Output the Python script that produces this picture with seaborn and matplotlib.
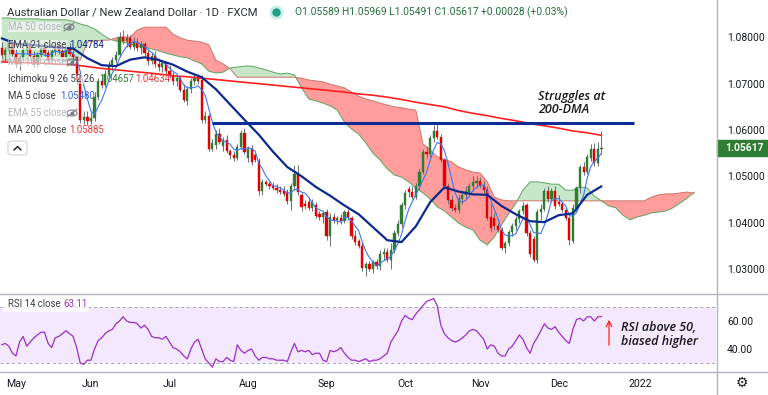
import numpy as np
import pandas as pd
import matplotlib
matplotlib.use("Agg")
import matplotlib.pyplot as plt
import seaborn as sns
from matplotlib.patches import Rectangle, Ellipse, FancyBboxPatch
from matplotlib.lines import Line2D
from matplotlib.ticker import FormatStrFormatter

# ------------------- DATA: AUD/NZD 1D (FXCM), 27 Apr - 17 Dec 2021 -------------------
start_date = "2021-04-27"

open_prices = [
    1.0778, 1.0762, 1.0772, 1.0788, 1.0765, 1.0742, 1.0755, 1.0772, 1.0788, 1.0760,
    1.0742, 1.0762, 1.0778, 1.0766, 1.0752, 1.0770, 1.0784, 1.0770, 1.0758, 1.0776,
    1.0765, 1.0757, 1.0710, 1.0622, 1.0628, 1.0620, 1.0626, 1.0672, 1.0705, 1.0698,
    1.0722, 1.0740, 1.0752, 1.0762, 1.0800, 1.0792, 1.0798, 1.0780, 1.0790, 1.0778,
    1.0785, 1.0766, 1.0748, 1.0760, 1.0742, 1.0735, 1.0745, 1.0728, 1.0718, 1.0705,
    1.0712, 1.0686, 1.0662, 1.0688, 1.0706, 1.0713, 1.0708, 1.0622, 1.0630, 1.0560,
    1.0568, 1.0592, 1.0565, 1.0578, 1.0555, 1.0545, 1.0540, 1.0563, 1.0594, 1.0540,
    1.0560, 1.0545, 1.0533, 1.0468, 1.0488, 1.0484, 1.0480, 1.0475, 1.0470, 1.0468,
    1.0466, 1.0446, 1.0478, 1.0505, 1.0460, 1.0440, 1.0445, 1.0432, 1.0438, 1.0418,
    1.0412, 1.0422, 1.0370, 1.0413, 1.0406, 1.0410, 1.0404, 1.0422, 1.0410, 1.0370,
    1.0360, 1.0350, 1.0302, 1.0310, 1.0300, 1.0314, 1.0306, 1.0332, 1.0336, 1.0320,
    1.0340, 1.0378, 1.0398, 1.0438, 1.0472, 1.0466, 1.0456, 1.0478, 1.0510, 1.0552,
    1.0548, 1.0582, 1.0598, 1.0585, 1.0535, 1.0478, 1.0448, 1.0432, 1.0428, 1.0450,
    1.0460, 1.0466, 1.0478, 1.0485, 1.0490, 1.0480, 1.0470, 1.0412, 1.0410, 1.0392,
    1.0385, 1.0345, 1.0355, 1.0380, 1.0392, 1.0408, 1.0425, 1.0438, 1.0378, 1.0365,
    1.0320, 1.0422, 1.0430, 1.0468, 1.0450, 1.0468, 1.0445, 1.0440, 1.0428, 1.0410,
    1.0360, 1.0432, 1.0474, 1.0520, 1.0510, 1.0540, 1.0560, 1.0528, 1.05589,
]
high_prices = [
    1.0790, 1.0780, 1.0795, 1.0792, 1.0775, 1.0760, 1.0780, 1.0795, 1.0795, 1.0770,
    1.0768, 1.0785, 1.0790, 1.0772, 1.0775, 1.0792, 1.0795, 1.0778, 1.0782, 1.0788,
    1.0772, 1.0760, 1.0728, 1.0640, 1.0642, 1.0638, 1.0682, 1.0712, 1.0722, 1.0730,
    1.0748, 1.0758, 1.0770, 1.0812, 1.0815, 1.0808, 1.0805, 1.0800, 1.0798, 1.0792,
    1.0790, 1.0775, 1.0768, 1.0770, 1.0755, 1.0752, 1.0750, 1.0740, 1.0725, 1.0718,
    1.0716, 1.0700, 1.0695, 1.0712, 1.0720, 1.0722, 1.0718, 1.0640, 1.0635, 1.0580,
    1.0600, 1.0605, 1.0585, 1.0590, 1.0560, 1.0555, 1.0570, 1.0600, 1.0605, 1.0565,
    1.0568, 1.0550, 1.0540, 1.0495, 1.0492, 1.0490, 1.0488, 1.0484, 1.0480, 1.0478,
    1.0472, 1.0485, 1.0525, 1.0525, 1.0465, 1.0448, 1.0455, 1.0450, 1.0445, 1.0425,
    1.0425, 1.0430, 1.0420, 1.0420, 1.0415, 1.0418, 1.0428, 1.0430, 1.0415, 1.0385,
    1.0365, 1.0358, 1.0315, 1.0318, 1.0320, 1.0322, 1.0340, 1.0345, 1.0345, 1.0355,
    1.0385, 1.0405, 1.0445, 1.0470, 1.0478, 1.0480, 1.0485, 1.0515, 1.0560, 1.0565,
    1.0590, 1.0610, 1.0612, 1.0592, 1.0540, 1.0485, 1.0460, 1.0440, 1.0460, 1.0470,
    1.0480, 1.0485, 1.0500, 1.0500, 1.0498, 1.0490, 1.0478, 1.0440, 1.0420, 1.0400,
    1.0390, 1.0360, 1.0385, 1.0400, 1.0415, 1.0430, 1.0445, 1.0442, 1.0385, 1.0370,
    1.0430, 1.0440, 1.0475, 1.0478, 1.0475, 1.0478, 1.0460, 1.0445, 1.0432, 1.0415,
    1.0440, 1.0478, 1.0525, 1.0530, 1.0548, 1.0570, 1.0572, 1.0575, 1.05969,
]
low_prices = [
    1.0755, 1.0750, 1.0765, 1.0760, 1.0735, 1.0730, 1.0748, 1.0765, 1.0755, 1.0735,
    1.0738, 1.0755, 1.0760, 1.0745, 1.0748, 1.0762, 1.0765, 1.0750, 1.0752, 1.0760,
    1.0745, 1.0700, 1.0615, 1.0612, 1.0610, 1.0612, 1.0620, 1.0665, 1.0690, 1.0692,
    1.0715, 1.0730, 1.0745, 1.0758, 1.0785, 1.0780, 1.0775, 1.0772, 1.0770, 1.0765,
    1.0760, 1.0740, 1.0742, 1.0735, 1.0728, 1.0725, 1.0720, 1.0712, 1.0698, 1.0695,
    1.0682, 1.0660, 1.0655, 1.0680, 1.0698, 1.0700, 1.0615, 1.0615, 1.0555, 1.0555,
    1.0560, 1.0570, 1.0555, 1.0550, 1.0538, 1.0532, 1.0535, 1.0560, 1.0548, 1.0530,
    1.0525, 1.0530, 1.0460, 1.0460, 1.0478, 1.0472, 1.0470, 1.0465, 1.0462, 1.0458,
    1.0440, 1.0428, 1.0470, 1.0460, 1.0425, 1.0430, 1.0428, 1.0425, 1.0410, 1.0405,
    1.0400, 1.0362, 1.0350, 1.0400, 1.0398, 1.0398, 1.0400, 1.0405, 1.0365, 1.0352,
    1.0345, 1.0295, 1.0285, 1.0295, 1.0292, 1.0300, 1.0298, 1.0320, 1.0315, 1.0300,
    1.0335, 1.0370, 1.0390, 1.0430, 1.0455, 1.0450, 1.0450, 1.0470, 1.0505, 1.0540,
    1.0540, 1.0575, 1.0580, 1.0530, 1.0472, 1.0440, 1.0425, 1.0422, 1.0420, 1.0440,
    1.0450, 1.0455, 1.0468, 1.0475, 1.0475, 1.0465, 1.0405, 1.0380, 1.0385, 1.0380,
    1.0340, 1.0335, 1.0350, 1.0372, 1.0385, 1.0400, 1.0418, 1.0370, 1.0325, 1.0315,
    1.0312, 1.0405, 1.0425, 1.0445, 1.0445, 1.0430, 1.0435, 1.0422, 1.0405, 1.0352,
    1.0355, 1.0425, 1.0465, 1.0502, 1.0505, 1.0532, 1.0522, 1.0522, 1.05491,
]
close_prices = [
    1.0762, 1.0772, 1.0788, 1.0765, 1.0742, 1.0755, 1.0772, 1.0788, 1.0760, 1.0742,
    1.0762, 1.0778, 1.0766, 1.0752, 1.0770, 1.0784, 1.0770, 1.0758, 1.0776, 1.0765,
    1.0757, 1.0708, 1.0622, 1.0628, 1.0620, 1.0626, 1.0672, 1.0705, 1.0698, 1.0722,
    1.0740, 1.0752, 1.0762, 1.0800, 1.0792, 1.0798, 1.0780, 1.0790, 1.0778, 1.0785,
    1.0766, 1.0748, 1.0760, 1.0742, 1.0735, 1.0745, 1.0728, 1.0718, 1.0705, 1.0712,
    1.0686, 1.0665, 1.0688, 1.0706, 1.0713, 1.0705, 1.0622, 1.0630, 1.0560, 1.0572,
    1.0592, 1.0575, 1.0578, 1.0555, 1.0545, 1.0540, 1.0563, 1.0594, 1.0552, 1.0560,
    1.0530, 1.0535, 1.0468, 1.0488, 1.0484, 1.0478, 1.0475, 1.0470, 1.0466, 1.0462,
    1.0446, 1.0478, 1.0505, 1.0466, 1.0433, 1.0436, 1.0432, 1.0444, 1.0415, 1.0412,
    1.0420, 1.0370, 1.0413, 1.0406, 1.0410, 1.0404, 1.0422, 1.0412, 1.0370, 1.0358,
    1.0350, 1.0302, 1.0310, 1.0300, 1.0314, 1.0306, 1.0332, 1.0336, 1.0320, 1.0340,
    1.0378, 1.0398, 1.0438, 1.0465, 1.0466, 1.0456, 1.0478, 1.0510, 1.0552, 1.0548,
    1.0582, 1.0598, 1.0585, 1.0535, 1.0478, 1.0448, 1.0432, 1.0428, 1.0452, 1.0460,
    1.0468, 1.0478, 1.0488, 1.0490, 1.0480, 1.0470, 1.0410, 1.0388, 1.0392, 1.0385,
    1.0345, 1.0355, 1.0380, 1.0392, 1.0408, 1.0425, 1.0436, 1.0378, 1.0332, 1.0320,
    1.0422, 1.0430, 1.0468, 1.0450, 1.0468, 1.0435, 1.0440, 1.0428, 1.0410, 1.0362,
    1.0432, 1.0474, 1.0520, 1.0510, 1.0542, 1.0560, 1.0528, 1.05589, 1.05617,
]
rsi_values = [
    43, 44, 42, 37, 35, 45, 49, 42, 45, 48,
    50, 52, 52, 44, 41, 48, 49, 51, 53, 51,
    49, 41, 30, 29, 32, 32, 40, 46, 48, 51,
    53, 54, 58, 60, 63, 60, 59, 59, 58, 55,
    57, 54, 49, 48, 48, 47, 49, 45, 41, 40,
    38, 35, 33, 40, 45, 47, 40, 33, 30, 27,
    33, 31, 31, 34, 32, 31, 43, 39, 37, 39,
    40, 35, 32, 34, 34, 33, 33, 32, 32, 32,
    31, 38, 44, 38, 39, 38, 39, 36, 37, 37,
    32, 31, 39, 38, 39, 41, 37, 34, 32, 32,
    31, 32, 33, 31, 32, 32, 33, 35, 37, 45,
    49, 53, 60, 64, 62, 61, 65, 68, 71, 74,
    75, 76, 71, 57, 51, 48, 46, 45, 46, 48,
    50, 53, 54, 53, 50, 47, 40, 43, 42, 37,
    35, 35, 40, 42, 46, 50, 47, 41, 37, 44,
    48, 53, 58, 55, 54, 56, 52, 49, 46, 44,
    54, 61, 62, 60, 63, 63, 60, 63, 63.11,
]

# EMA 21 and MA 200 read every 4th bar
ema21_every4 = [
    1.0798, 1.0786, 1.0784, 1.0781, 1.0778, 1.0776, 1.0755, 1.0740, 1.0738, 1.0752,
    1.0757, 1.0751, 1.0741, 1.0726, 1.0714, 1.0688, 1.0655, 1.0622, 1.0590, 1.0553,
    1.0520, 1.0500, 1.0477, 1.0458, 1.0437, 1.0418, 1.0390, 1.0362, 1.0358, 1.0392,
    1.0444, 1.0476, 1.0467, 1.0461, 1.0460, 1.0436, 1.0418, 1.0403, 1.0401, 1.0416,
    1.0420, 1.0460, 1.04784,
]
ma200_every4 = [
    1.0747, 1.0746, 1.0745, 1.0744, 1.0742, 1.0741, 1.0737, 1.0733, 1.0730, 1.0727,
    1.0724, 1.0721, 1.0717, 1.0715, 1.0712, 1.0709, 1.0706, 1.0703, 1.0700, 1.0697,
    1.0694, 1.0691, 1.0688, 1.0685, 1.0682, 1.0678, 1.0675, 1.0671, 1.0666, 1.0660,
    1.0655, 1.0650, 1.0642, 1.0636, 1.0631, 1.0625, 1.0620, 1.0614, 1.0609, 1.0604,
    1.0598, 1.0594, 1.05885,
]

# Ichimoku leading spans read every 2nd bar (run 26 bars past the last candle)
span_a_every2 = [
    1.0842, 1.0842, 1.0840, 1.0840, 1.0840, 1.0840, 1.0838, 1.0838, 1.0838, 1.0838,
    1.0835, 1.0829, 1.0825, 1.0818, 1.0807, 1.0797, 1.0792, 1.0790, 1.0786, 1.0781,
    1.0779, 1.0775, 1.0771, 1.0766, 1.0762, 1.0758, 1.0756, 1.0749, 1.0743, 1.0727,
    1.0723, 1.0725, 1.0734, 1.0736, 1.0738, 1.0738, 1.0734, 1.0730, 1.0725, 1.0721,
    1.0723, 1.0719, 1.0691, 1.0667, 1.0663, 1.0658, 1.0652, 1.0643, 1.0617, 1.0602,
    1.0591, 1.0572, 1.0550, 1.0535, 1.0516, 1.0503, 1.0498, 1.0488, 1.0475, 1.0464,
    1.0451, 1.0434, 1.0425, 1.0412, 1.0399, 1.0390, 1.0384, 1.0362, 1.0352, 1.0369,
    1.0395, 1.0419, 1.0442, 1.0470, 1.0488, 1.0488, 1.0486, 1.0483, 1.0483, 1.0470,
    1.0470, 1.0477, 1.0475, 1.0457, 1.0447, 1.0436, 1.0432, 1.0416, 1.0406, 1.0412,
    1.0416, 1.0421, 1.0423, 1.0425, 1.0432, 1.0442, 1.0453, 1.04657,
]
span_b_every2 = [
    1.0751, 1.0751, 1.0751, 1.0751, 1.0751, 1.0751, 1.0751, 1.0751, 1.0751, 1.0751,
    1.0751, 1.0751, 1.0790, 1.0792, 1.0794, 1.0794, 1.0799, 1.0801, 1.0801, 1.0816,
    1.0822, 1.0822, 1.0822, 1.0822, 1.0807, 1.0799, 1.0794, 1.0792, 1.0790, 1.0784,
    1.0751, 1.0743, 1.0732, 1.0714, 1.0714, 1.0714, 1.0714, 1.0714, 1.0714, 1.0714,
    1.0714, 1.0714, 1.0712, 1.0708, 1.0706, 1.0704, 1.0699, 1.0695, 1.0691, 1.0682,
    1.0673, 1.0667, 1.0663, 1.0658, 1.0654, 1.0650, 1.0648, 1.0645, 1.0643, 1.0570,
    1.0557, 1.0542, 1.0537, 1.0531, 1.0520, 1.0514, 1.0509, 1.0507, 1.0488, 1.0455,
    1.0449, 1.0447, 1.0447, 1.0447, 1.0447, 1.0447, 1.0447, 1.0447, 1.0447, 1.0447,
    1.0447, 1.0447, 1.0447, 1.0447, 1.0447, 1.0447, 1.0447, 1.0447, 1.0447, 1.0447,
    1.0447, 1.0455, 1.0460, 1.0462, 1.0462, 1.0464, 1.0466, 1.04634,
]

resistance_level = 1.0615
resistance_from = "2021-07-19"
resistance_to = "2021-12-30"

month_labels = ["May", "Jun", "Jul", "Aug", "Sep", "Oct", "Nov", "Dec", "2022"]
price_ticks = [1.03, 1.04, 1.05, 1.06, 1.07, 1.08]
rsi_ticks = [40, 60]

# ------------------- PREP -------------------
n = len(close_prices)
dates = pd.bdate_range(start_date, periods=n + 40)
pos = np.arange(len(dates))
df = pd.DataFrame({"open": open_prices, "high": high_prices, "low": low_prices,
                   "close": close_prices, "rsi": rsi_values}, index=dates[:n])
df["x"] = pos[:n]
df["ma5"] = df["close"].rolling(5).mean()

x4 = pos[:n:4]
x2 = pos[::2][:len(span_a_every2)]
span_a = np.array(span_a_every2)
span_b = np.array(span_b_every2)

s = pd.Series(pos, index=dates)
firsts = s.groupby(dates.to_period("M")).first()
month_pos = firsts.loc["2021-05":"2022-01"].values

UP, DOWN = "#2e7d32", "#e50000"
TXT = "#131722"
GRID = "#b2b5be"
NARROW = ["Liberation Sans Narrow", "Roboto", "DejaVu Sans"]

sns.set_style("white")
plt.rcParams["font.family"] = ["Roboto", "DejaVu Sans"]

fig = plt.figure(figsize=(7.68, 3.95), dpi=100)
ax = fig.add_axes([0, 101 / 395, 716 / 768, 294 / 395])
ax_rsi = fig.add_axes([0, 23 / 395, 716 / 768, 78 / 395])
xlim = (-0.48, 200.08)

# ------------------- PRICE PANE -------------------
ax.fill_between(x2, span_a, span_b, where=span_a >= span_b, interpolate=True,
                color="#c8e6c9", lw=0, zorder=1)
ax.fill_between(x2, span_a, span_b, where=span_a < span_b, interpolate=True,
                color="#ff9c9c", lw=0, zorder=1)
ax.plot(x2, span_a, color="#5aa55e", lw=0.7, zorder=1.5)
ax.plot(x2, span_b, color="#c9776a", lw=0.7, zorder=1.5)

colors = np.where(df["close"] >= df["open"], UP, DOWN)
body = (df["close"] - df["open"]).values
body = np.where(np.abs(body) < 0.00012, np.where(body >= 0, 0.00012, -0.00012), body)
ax.vlines(df["x"], df["low"], df["high"], color="#6a6d78", lw=0.7, zorder=2)
ax.bar(df["x"], body, bottom=df["open"], width=0.62, color=colors,
       edgecolor=colors, lw=0.3, zorder=2.5)

sns.lineplot(x=x4, y=ma200_every4, ax=ax, color="#ff2020", lw=1.2, zorder=3)
sns.lineplot(x=df["x"], y=df["ma5"], ax=ax, color="#3c78f0", lw=0.8, zorder=3)
sns.lineplot(x=x4, y=ema21_every4, ax=ax, color="#0c2a8c", lw=1.6, zorder=3.2)

ax.hlines(resistance_level, s[resistance_from], s[resistance_to],
          color="#0d2d94", lw=2.2, zorder=3.5)

ax.text(0.7514, 0.6497, "Struggles at\n200-DMA", transform=ax.transAxes,
        ha="left", va="center", fontsize=9, style="italic", weight="semibold",
        family="Open Sans", color="#1a1a1a", linespacing=1.0)

ax.set_xlim(*xlim)
ax.set_ylim(1.024579, 1.088078)
ax.yaxis.tick_right()
ax.set_yticks(price_ticks)
ax.yaxis.set_major_formatter(FormatStrFormatter("%.5f"))
ax.tick_params(axis="y", length=0, pad=8, labelsize=7.4, colors=TXT)
ax.set_xticks([])
ax.set_xlabel("")
ax.set_ylabel("")
for sp in ax.spines.values():
    sp.set_visible(False)

# current price tag
last_close = close_prices[-1]
ax.add_patch(Rectangle((1.0015, last_close - 0.00175), 0.075, 0.0035,
                       transform=ax.get_yaxis_transform(), clip_on=False,
                       fc=UP, ec=UP, zorder=5))
ax.text(1.0126, last_close, f"{last_close:.5f}", transform=ax.get_yaxis_transform(),
        ha="left", va="center", color="white", fontsize=7.4, weight="bold",
        clip_on=False, zorder=6)

# ------------------- RSI PANE -------------------
ax_rsi.axhspan(30, 70, color="#f3e8fd", lw=0, zorder=0)
ax_rsi.axhline(70, color="#a9a3b8", lw=0.7, ls=(0, (3, 3)), zorder=1)
ax_rsi.axhline(30, color="#a9a3b8", lw=0.7, ls=(0, (3, 3)), zorder=1)
sns.lineplot(x=df["x"], y=df["rsi"], ax=ax_rsi, color="#9a2fc9", lw=0.9, zorder=2)
ax_rsi.set_xlim(*xlim)
ax_rsi.set_ylim(23.57, 79.29)
ax_rsi.yaxis.tick_right()
ax_rsi.set_yticks(rsi_ticks)
ax_rsi.yaxis.set_major_formatter(FormatStrFormatter("%.2f"))
ax_rsi.tick_params(axis="y", length=0, pad=8, labelsize=7.4, colors=TXT)
ax_rsi.set_xticks(month_pos)
ax_rsi.set_xticklabels(month_labels)
ax_rsi.tick_params(axis="x", length=0, pad=5, labelsize=7.6, colors=TXT)
ax_rsi.set_xlabel("")
ax_rsi.set_ylabel("")
for sp in ax_rsi.spines.values():
    sp.set_visible(False)

ax_rsi.annotate("", xy=(0.8506, 0.705), xytext=(0.8506, 0.3077), xycoords="axes fraction",
                arrowprops=dict(arrowstyle="->", color="#ff1f1f", lw=0.9, mutation_scale=10))
ax_rsi.text(0.868, 0.48, "RSI above 50,\nbiased higher", transform=ax_rsi.transAxes,
            ha="left", va="center", fontsize=9, style="italic", weight="semibold",
            family="Open Sans", color="#1a1a1a", linespacing=1.05)

# ------------------- OVERLAY: separators, legend texts -------------------
ov = fig.add_axes([0, 0, 1, 1], zorder=10)
ov.set_xlim(0, 768)
ov.set_ylim(395, 0)
ov.axis("off")

fig.add_artist(Line2D([0, 1], [1 - 294 / 395] * 2, color=GRID, lw=1))
fig.add_artist(Line2D([0, 1], [1 - 372 / 395] * 2, color=GRID, lw=1))
fig.add_artist(Line2D([716.5 / 768] * 2, [0, 1], color=GRID, lw=1))

ov.text(7, 12, "Australian Dollar / New Zealand Dollar · 1D · FXCM", va="center",
        fontsize=8.1, color="#2a2e39")
ov.plot(276, 12, "o", ms=9, color="#c8ebe6", zorder=11)
ov.plot(276, 12, "o", ms=5, color="#1e9e8a", zorder=12)
prev_close = close_prices[-2]
chg = last_close - prev_close
ohlc = (f"O{open_prices[-1]:.5f} H{high_prices[-1]:.5f} L{low_prices[-1]:.5f} "
        f"C{last_close:.5f} {chg:+.5f} ({chg / prev_close * 100:+.2f}%)")
ov.text(295, 12, ohlc, va="center", fontsize=7.4, color="#23703a", family=NARROW)

# legend rows: (y, label, hidden, [(x, value, colour), ...])
legend_rows = [
    (27, "MA 50 close", True, []),
    (45, "EMA 21 close", False, [(69, "1.04784", "#0c2a8c")]),
    (62, "MA 100 close", True, []),
    (79, "Ichimoku 9 26 52 26", False, [(99, "1.04657", "#2e7d32"), (135, "1.04634", "#e53935")]),
    (96, "MA 5 close", False, [(60, "1.05480", "#2f5fd8")]),
    (113, "EMA 55 close", True, []),
    (130, "MA 200 close", False, [(69, "1.05885", "#e53935")]),
]
for y, label, hidden, values in legend_rows:
    t = ov.text(8, y, label, va="center", fontsize=6.9, family=NARROW,
                color="#b2b5be" if hidden else "#3b3e48")
    t.set_bbox(dict(boxstyle="square,pad=0.05", fc="white", ec="none", alpha=0.55))
    for vx, vtxt, vcol in values:
        ov.text(vx, y, vtxt, va="center", fontsize=6.9, family=NARROW, color=vcol)
    if hidden:
        ex = 72 if label != "MA 50 close" else 69
        ov.add_patch(Ellipse((ex, y), 10, 6, fill=False, ec="#787b86", lw=0.8))
        ov.plot(ex, y, "o", ms=1.8, color="#787b86")
        ov.plot([ex - 5, ex + 5], [y + 4, y - 4], color="#787b86", lw=0.8)

ov.add_patch(FancyBboxPatch((8, 141), 19, 14, boxstyle="round,pad=0,rounding_size=3",
                            fc="white", ec="#d1d4dc", lw=0.8))
ov.plot([14, 17.5, 21], [150, 146.5, 150], color=TXT, lw=1)

ov.add_patch(Rectangle((3, 297), 86, 15, fc="white", ec="none", alpha=0.8))
ov.text(8, 304, "RSI 14 close", va="center", fontsize=6.9, family=NARROW, color="#3b3e48")
ov.text(63, 304, "63.11", va="center", fontsize=6.9, family=NARROW, color="#9a2fc9")
ov.text(742, 383, "⚙", ha="center", va="center", fontsize=10, color=TXT,
        family="DejaVu Sans")

fig.savefig("out.png", dpi=100)
